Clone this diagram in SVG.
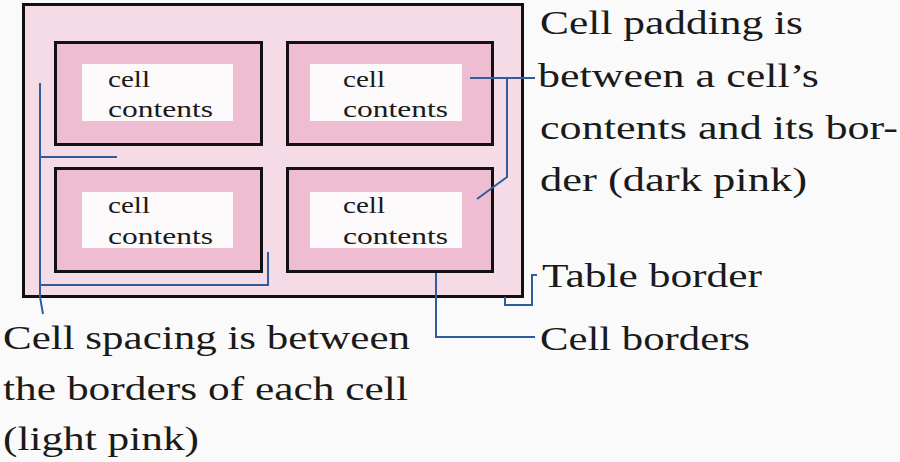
<svg xmlns="http://www.w3.org/2000/svg" width="900" height="462" viewBox="0 0 900 462">
<defs>
<style>
.bg{fill:#fafafa}
.table{fill:#f5dbe6;stroke:#111;stroke-width:3}
.cell{fill:#efbdd2;stroke:#111;stroke-width:3}
.content{fill:#fcf9fb}
.ct{font-family:"Liberation Serif","Times New Roman",serif;font-size:23px;fill:#1a1a1a}
.lbl{font-family:"Liberation Serif","Times New Roman",serif;font-size:34px;fill:#1a1a1a}
.conn{fill:none;stroke:#2f5d9e;stroke-width:2;stroke-linejoin:miter}
</style>
</defs>
<rect class="bg" x="0" y="0" width="900" height="462"/>
<g id="table">
<rect class="table" x="23.5" y="4.5" width="499" height="292"/>
</g>
<g id="cell-top-left">
<rect class="cell" x="55.5" y="42.5" width="206" height="102"/>
<rect class="content" x="82" y="64" width="151" height="57"/>
<text class="ct" x="108" y="87" textLength="42" lengthAdjust="spacingAndGlyphs">cell</text>
<text class="ct" x="108" y="117" textLength="105" lengthAdjust="spacingAndGlyphs">contents</text>
</g>
<g id="cell-top-right">
<rect class="cell" x="287.5" y="42.5" width="205" height="102"/>
<rect class="content" x="310" y="64" width="152" height="57"/>
<text class="ct" x="343" y="87" textLength="42" lengthAdjust="spacingAndGlyphs">cell</text>
<text class="ct" x="343" y="117" textLength="105" lengthAdjust="spacingAndGlyphs">contents</text>
</g>
<g id="cell-bottom-left">
<rect class="cell" x="55.5" y="168.5" width="206" height="103"/>
<rect class="content" x="82" y="192" width="151" height="56"/>
<text class="ct" x="108" y="213" textLength="42" lengthAdjust="spacingAndGlyphs">cell</text>
<text class="ct" x="108" y="244" textLength="105" lengthAdjust="spacingAndGlyphs">contents</text>
</g>
<g id="cell-bottom-right">
<rect class="cell" x="287.5" y="168.5" width="205" height="103"/>
<rect class="content" x="310" y="192" width="152" height="56"/>
<text class="ct" x="343" y="213" textLength="42" lengthAdjust="spacingAndGlyphs">cell</text>
<text class="ct" x="343" y="244" textLength="105" lengthAdjust="spacingAndGlyphs">contents</text>
</g>
<g id="connectors">
<polyline class="conn" points="40,83 40,297 43,314"/>
<polyline class="conn" points="40,157 117,157"/>
<polyline class="conn" points="40,285 268,285 268,252"/>
<polyline class="conn" points="470,78 535,78"/>
<polyline class="conn" points="507,78 507,177 477,199"/>
<polyline class="conn" points="537,275 532,275 532,305 505,305 505,297"/>
<polyline class="conn" points="436,273 436,337 535,337"/>
</g>
<g id="label-padding">
<text class="lbl" x="540" y="34" textLength="263" lengthAdjust="spacingAndGlyphs">Cell padding is</text>
<text class="lbl" x="538" y="87" textLength="281" lengthAdjust="spacingAndGlyphs">between a cell’s</text>
<text class="lbl" x="540" y="139" textLength="358" lengthAdjust="spacingAndGlyphs">contents and its bor-</text>
<text class="lbl" x="540" y="191" textLength="267" lengthAdjust="spacingAndGlyphs">der (dark pink)</text>
</g>
<g id="label-table-border">
<text class="lbl" x="542" y="287" textLength="220" lengthAdjust="spacingAndGlyphs">Table border</text>
</g>
<g id="label-cell-borders">
<text class="lbl" x="540" y="350" textLength="210" lengthAdjust="spacingAndGlyphs">Cell borders</text>
</g>
<g id="label-spacing">
<text class="lbl" x="3" y="349" textLength="407" lengthAdjust="spacingAndGlyphs">Cell spacing is between</text>
<text class="lbl" x="3" y="400" textLength="405" lengthAdjust="spacingAndGlyphs">the borders of each cell</text>
<text class="lbl" x="3" y="450" textLength="196" lengthAdjust="spacingAndGlyphs">(light pink)</text>
</g>
</svg>
